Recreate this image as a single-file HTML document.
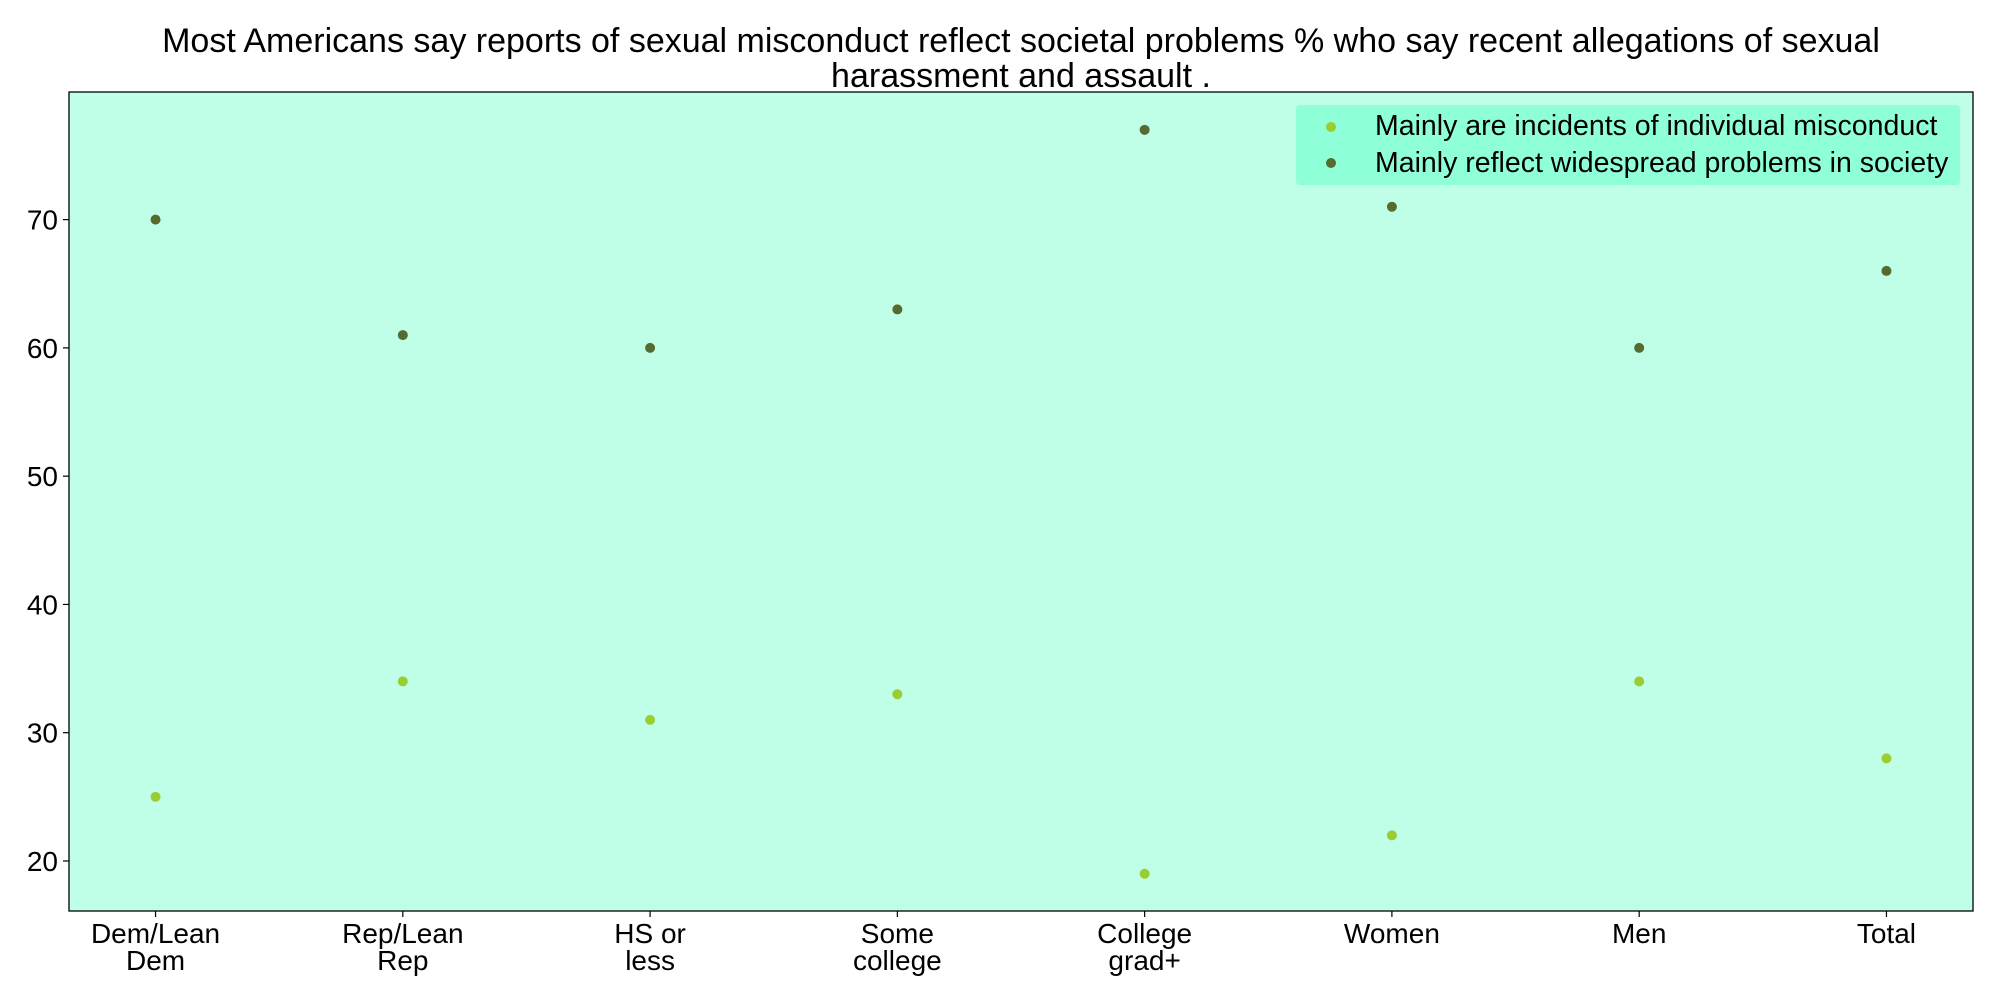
<!DOCTYPE html>
<html><head><meta charset="utf-8"><style>
body{margin:0;background:#fff;}
svg{display:block;font-family:"Liberation Sans",sans-serif;}
</style></head><body>
<svg id="chart" width="2000" height="1000">
<text x="1021" y="52" font-size="34" text-anchor="middle">Most Americans say reports of sexual misconduct reflect societal problems % who say recent allegations of sexual</text>
<text x="1021" y="87" font-size="34" text-anchor="middle">harassment and assault .</text>
<rect x="69" y="92" width="1904" height="819" fill="#bfffe8" stroke="#000" stroke-width="1.3"/>
<g id="ticks"></g>
<g id="marks"></g>
<g>
<rect x="1296" y="105" width="664" height="80" rx="4" fill="#8affd6" opacity="0.9"/>
<circle cx="1331" cy="127" r="5" fill="#9acd32"/>
<text x="1375" y="135" font-size="28.5">Mainly are incidents of individual misconduct</text>
<circle cx="1331" cy="163" r="5" fill="#556b2f"/>
<text x="1375" y="172" font-size="28.5">Mainly reflect widespread problems in society</text>
</g>
</svg>
<script>
const categories = [["Dem/Lean","Dem"],["Rep/Lean","Rep"],["HS or","less"],["Some","college"],["College","grad+"],["Women"],["Men"],["Total"]];
const individual = [25,34,31,33,19,22,34,28];
const society = [70,61,60,63,77,71,60,66];
const yTicks = [20,30,40,50,60,70];
const NS="http://www.w3.org/2000/svg";
const L=69,R=1973,T=92,B=911,xmin=-0.35,xmax=7.35,ymin=16.1,ymax=79.95;
const xs=i=>L+(i-xmin)/(xmax-xmin)*(R-L);
const ys=v=>B-(v-ymin)/(ymax-ymin)*(B-T);
function mk(tag,attrs,parent){const e=document.createElementNS(NS,tag);for(const k in attrs)e.setAttribute(k,attrs[k]);parent.appendChild(e);return e;}
const tg=document.getElementById('ticks'),mg=document.getElementById('marks');
yTicks.forEach(v=>{
 const l=mk('line',{x1:L-6,x2:L,y1:ys(v),y2:ys(v),stroke:'#000','stroke-width':1.2},tg);
 
 
 const t=mk('text',{x:L-11,y:ys(v)+10,'font-size':28,'text-anchor':'end'},tg);
 t.textContent=v;
 
 
});
categories.forEach((c,i)=>{
 const l=mk('line',{x1:xs(i),x2:xs(i),y1:B,y2:B+6,stroke:'#000','stroke-width':1.2},tg);
 
 
 c.forEach((s,j)=>{
  const t=mk('text',{x:xs(i),y:B+32+j*27,'font-size':28,'text-anchor':'middle'},tg);
  t.textContent=s;
  
  
 });
});
individual.forEach((v,i)=>{
 const c=mk('circle',{cx:xs(i),cy:ys(v),r:5,fill:'#9acd32'},mg);
 
 
});
society.forEach((v,i)=>{
 const c=mk('circle',{cx:xs(i),cy:ys(v),r:5,fill:'#556b2f'},mg);
 
 
});
</script>
</body></html>
